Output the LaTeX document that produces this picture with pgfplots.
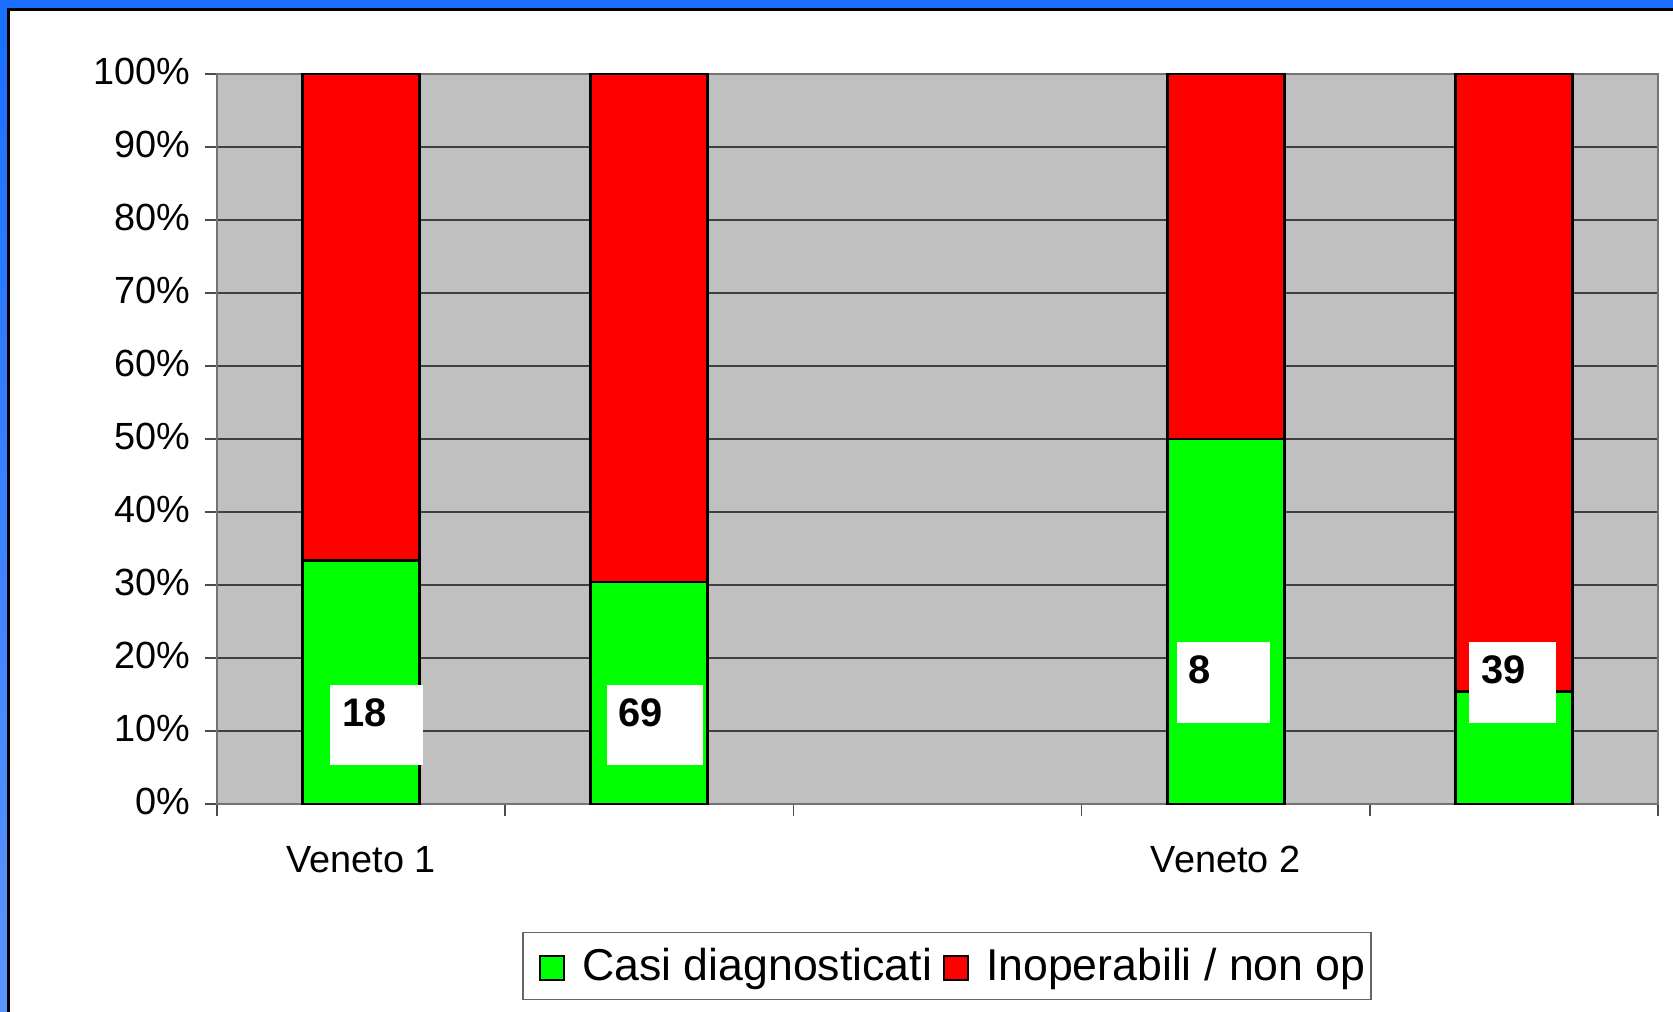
\documentclass[border=0pt]{standalone}
\usepackage{pgfplots}
\pgfplotsset{compat=1.18}
\usepackage{fontspec}
\setmainfont{Liberation Sans}
\definecolor{plotgray}{HTML}{C0C0C0}
\definecolor{barred}{HTML}{FF0000}
\definecolor{bargreen}{HTML}{00FF00}
\definecolor{frameblue}{HTML}{1A6FFF}
\definecolor{frameblue2}{HTML}{5B95FF}
\begin{document}
\begin{tikzpicture}[x=1bp,y=1bp]
\useasboundingbox (0,0) rectangle (836.5,506);
\fill[white] (0,0) rectangle (836.5,506);
\begin{axis}[
  at={(108.5bp,104bp)}, anchor=south west,
  scale only axis, width=720.5bp, height=365bp,
  xmin=-0.5, xmax=4.5, ymin=0, ymax=100,
  ybar stacked, bar width=58.5bp,
  axis background/.style={fill=plotgray},
  axis line style={draw=black!55, line width=1bp},
  ytick={0,10,20,30,40,50,60,70,80,90,100},
  yticklabels={0\%,10\%,20\%,30\%,40\%,50\%,60\%,70\%,80\%,90\%,100\%},
  ymajorgrids, grid style={draw=black!75, line width=0.7bp},
  xtick={-0.5,0.5,1.5,2.5,3.5,4.5}, xticklabels={},
  xtick pos=bottom, ytick pos=left,
  tick align=outside, major tick length=6bp,
  tick style={draw=black!70, line width=0.8bp},
  extra x ticks={0,3}, extra x tick labels={Veneto 1,Veneto 2},
  extra x tick style={major tick length=0pt, grid=none,
     xticklabel style={anchor=base, yshift=-34.5bp}},
  ticklabel style={font=\fontsize{19}{22}\selectfont},
  yticklabel style={anchor=east, inner sep=0pt, xshift=-7.3bp, yshift=1.5bp},
  legend columns=2,
  legend style={at={(axis description cs:0.5066,-0.2219)}, anchor=center,
     draw=black!60, line width=0.8bp, fill=white, inner xsep=2.7bp, inner ysep=8bp,
     column sep=0pt, font=\fontsize{22.4}{26}\selectfont, nodes={inner sep=0pt}},
  legend image code/.code={\path (-5.3bp,0) (20.25bp,0);
     \draw[#1, draw=black, line width=1bp] (0bp,-6.8bp) rectangle (12bp,5.2bp);},
  clip=false,
]
\addplot[fill=bargreen, draw=black, line width=1.4bp] coordinates {(0,33.3) (1,30.4) (3,50) (4,15.4)};
\addlegendentry{Casi diagnosticati}
\addplot[fill=barred, draw=black, line width=1.4bp] coordinates {(0,66.7) (1,69.6) (3,50) (4,84.6)};
\addlegendentry{Inoperabili / non op}
\coordinate (a1) at (axis cs:-0.108,16.3); \coordinate (b1) at (axis cs:0.215,5.34);
\coordinate (a2) at (axis cs:0.853,16.3); \coordinate (b2) at (axis cs:1.186,5.34);
\coordinate (a3) at (axis cs:2.831,22.2); \coordinate (b3) at (axis cs:3.154,11.1);
\coordinate (a4) at (axis cs:3.844,22.2); \coordinate (b4) at (axis cs:4.146,11.1);
\coordinate (t1) at (axis cs:-0.066,12.5);
\coordinate (t2) at (axis cs:0.891,12.5);
\coordinate (t3) at (axis cs:2.869,18.4);
\coordinate (t4) at (axis cs:3.886,18.4);
\end{axis}
\fill[white] (a1) rectangle (b1);
\fill[white] (a2) rectangle (b2);
\fill[white] (a3) rectangle (b3);
\fill[white] (a4) rectangle (b4);
\node[anchor=west, inner sep=0pt, font=\bfseries\fontsize{20}{24}\selectfont] at (t1) {18};
\node[anchor=west, inner sep=0pt, font=\bfseries\fontsize{20}{24}\selectfont] at (t2) {69};
\node[anchor=west, inner sep=0pt, font=\bfseries\fontsize{20}{24}\selectfont] at (t3) {8};
\node[anchor=west, inner sep=0pt, font=\bfseries\fontsize{20}{24}\selectfont] at (t4) {39};
\fill[frameblue] (0,502) rectangle (836.5,506);
\fill[black] (5,500.5) rectangle (836.5,502);
\shade[top color=frameblue, bottom color=frameblue2] (0,0) rectangle (3.5,502);
\fill[black] (3.5,0) rectangle (5,502);
\end{tikzpicture}
\end{document}
